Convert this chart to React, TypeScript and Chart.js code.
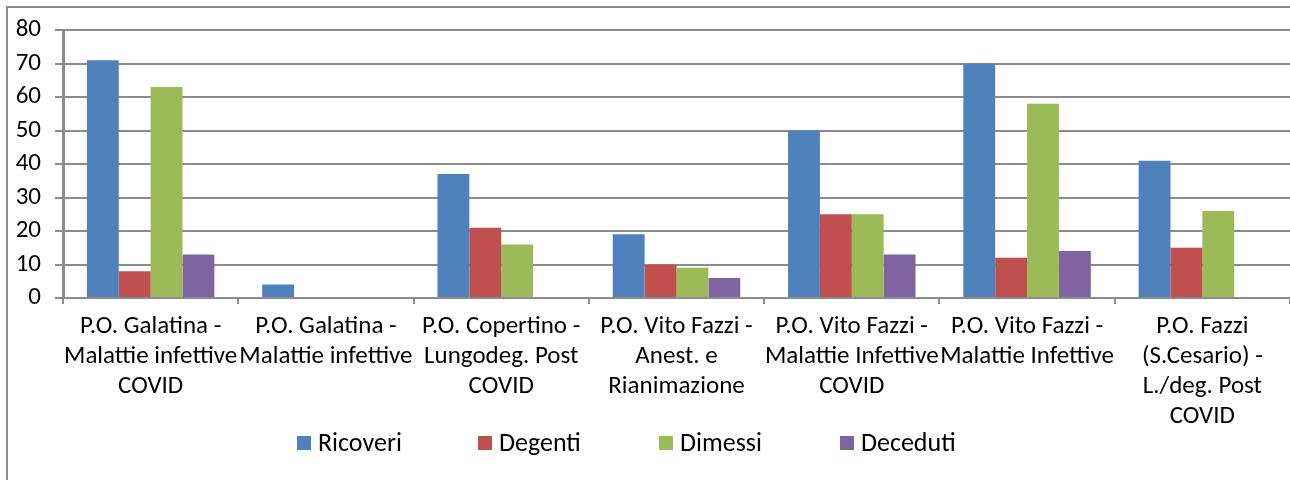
import React, { useEffect, useRef } from "react";
import { Chart, registerables } from "chart.js";

Chart.register(...registerables);

const categories: string[][] = [
  ["P.O. Galatina -", "Malattie infettive", "COVID"],
  ["P.O. Galatina -", "Malattie infettive"],
  ["P.O. Copertino -", "Lungodeg. Post", "COVID"],
  ["P.O. Vito Fazzi -", "Anest. e", "Rianimazione"],
  ["P.O. Vito Fazzi -", "Malattie Infettive", "COVID"],
  ["P.O. Vito Fazzi -", "Malattie Infettive"],
  ["P.O. Fazzi", "(S.Cesario) -", "L./deg. Post", "COVID"],
];

const ricoveri = [71, 4, 37, 19, 50, 70, 41];
const degenti = [8, 0, 21, 10, 25, 12, 15];
const dimessi = [63, 0, 16, 9, 25, 58, 26];
const deceduti = [13, 0, 0, 6, 13, 14, 0];

const seriesNames = ["Ricoveri", "Degenti", "Dimessi", "Deceduti"];
const seriesColors = ["#4F81BD", "#C0504D", "#9BBB59", "#8064A2"];

const yTicks = [0, 10, 20, 30, 40, 50, 60, 70, 80];

const FONT = "Carlito, Calibri, Lato, sans-serif";
const GRID = "#8c8c8c";

const legendPlugin = {
  id: "excelLegend",
  afterDraw(chart: any) {
    const ctx = chart.ctx;
    ctx.save();
    ctx.font = `26px ${FONT}`;
    ctx.textBaseline = "middle";
    ctx.textAlign = "left";
    chart.data.datasets.forEach((ds: any, i: number) => {
      const x = 289 + i * 181;
      const y = 435;
      ctx.fillStyle = ds.backgroundColor;
      ctx.fillRect(x, y - 7, 14, 14);
      ctx.fillStyle = "#000";
      ctx.fillText(ds.label, x + 21, y + 1);
    });
    ctx.restore();
  },
};

export default function App() {
  const ref = useRef<HTMLCanvasElement>(null);

  useEffect(() => {
    if (!ref.current) return;
    const values = [ricoveri, degenti, dimessi, deceduti];
    const chart = new Chart(ref.current, {
      type: "bar",
      data: {
        labels: categories,
        datasets: seriesNames.map((name, i) => ({
          label: name,
          data: values[i],
          backgroundColor: seriesColors[i],
          borderWidth: 0,
          categoryPercentage: 4 / 5.5,
          barPercentage: 1,
        })),
      },
      options: {
        animation: false,
        responsive: false,
        devicePixelRatio: 1,
        layout: { padding: { top: 22, right: 0, left: 0, bottom: 0 } },
        plugins: {
          legend: { display: false },
          tooltip: { enabled: false },
        },
        scales: {
          x: {
            grid: {
              display: true,
              drawOnChartArea: false,
              drawTicks: true,
              offset: true,
              tickLength: 6,
              color: GRID,
              lineWidth: 2,
            },
            border: { display: true, color: GRID, width: 2 },
            ticks: {
              color: "#000",
              font: { family: FONT, size: 25, lineHeight: 1.2 },
              padding: 8,
              autoSkip: false,
              maxRotation: 0,
              minRotation: 0,
            },
            afterFit(scale: any) {
              scale.height = 182;
              scale.paddingLeft = 0;
              scale.paddingRight = 0;
            },
          },
          y: {
            min: 0,
            max: 80,
            afterBuildTicks(scale: any) {
              scale.ticks = yTicks.map((v) => ({ value: v }));
            },
            grid: {
              color: GRID,
              lineWidth: 2,
              tickLength: 8,
              drawTicks: true,
            },
            border: { display: true, color: GRID, width: 3 },
            ticks: {
              color: "#000",
              font: { family: FONT, size: 25 },
              padding: 14,
              autoSkip: false,
            },
            afterFit(scale: any) {
              scale.width = 55;
              scale.paddingTop = 0;
              scale.paddingBottom = 0;
            },
          },
        },
      },
      plugins: [legendPlugin],
    });
    return () => chart.destroy();
  }, []);

  return (
    <div
      style={{
        position: "absolute",
        left: 6,
        top: 6,
        width: 1284,
        height: 474,
        boxSizing: "border-box",
        borderLeft: `2px solid ${GRID}`,
        borderTop: `2px solid ${GRID}`,
        overflow: "hidden",
        background: "#fff",
      }}
    >
      <canvas ref={ref} width={1282} height={472} style={{ display: "block", width: 1282, height: 472 }} />
    </div>
  );
}
